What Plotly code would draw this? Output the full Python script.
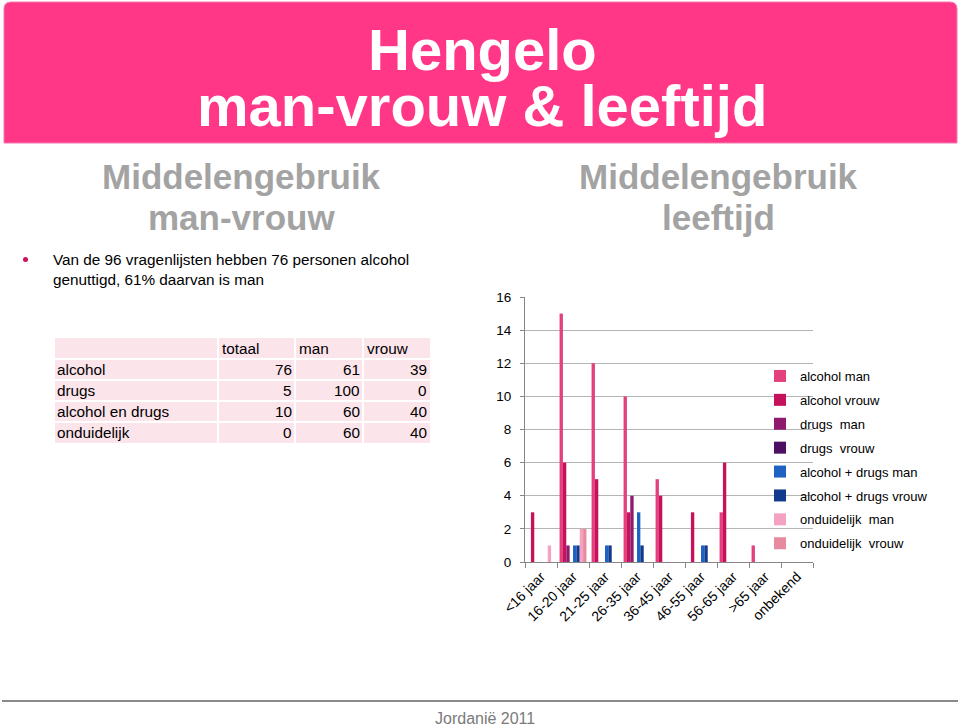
import plotly.graph_objects as go

# ---------------- data ----------------
age_groups = ["<16 jaar", "16-20 jaar", "21-25 jaar", "26-35 jaar", "36-45 jaar",
              "46-55 jaar", "56-65 jaar", ">65 jaar", "onbekend"]
series_names = ["alcohol man", "alcohol vrouw", "drugs  man", "drugs  vrouw",
                "alcohol + drugs man", "alcohol + drugs vrouw",
                "onduidelijk  man", "onduidelijk  vrouw"]
alcohol_man = [0, 15, 12, 10, 5, 0, 3, 1, 0]
alcohol_vrouw = [3, 6, 5, 3, 4, 3, 6, 0, 0]
drugs_man = [0, 1, 0, 4, 0, 0, 0, 0, 0]
drugs_vrouw = [0, 0, 0, 0, 0, 0, 0, 0, 0]
alc_drugs_man = [0, 1, 1, 3, 0, 1, 0, 0, 0]
alc_drugs_vrouw = [0, 1, 1, 1, 0, 1, 0, 0, 0]
ond_man = [1, 2, 0, 0, 0, 0, 0, 0, 0]
ond_vrouw = [0, 2, 0, 0, 0, 0, 0, 0, 0]
series_values = [alcohol_man, alcohol_vrouw, drugs_man, drugs_vrouw,
                 alc_drugs_man, alc_drugs_vrouw, ond_man, ond_vrouw]
series_colors = ["#E3407D", "#C6115B", "#8E1B6E", "#4C0F62",
                 "#1F62C4", "#0F3A8E", "#F3A2C2", "#E78A9D"]

table_rows = ["alcohol", "drugs", "alcohol en drugs", "onduidelijk"]
table_totaal = [76, 5, 10, 0]
table_man = [61, 100, 60, 60]
table_vrouw = [39, 0, 40, 40]
table_header = ["", "totaal", "man", "vrouw"]

W, H = 960, 727


def px(x):
    return x / W


def py(y):
    return 1 - y / H


fig = go.Figure()

for name, vals, col in zip(series_names, series_values, series_colors):
    fig.add_trace(go.Bar(x=age_groups, y=vals, name=name, marker_color=col,
                         marker_line_width=0, legendgroup=name))

fig.update_layout(
    width=W, height=H, margin=dict(l=0, r=0, t=0, b=0, autoexpand=False),
    paper_bgcolor="white", plot_bgcolor="white",
    font=dict(family="Liberation Sans, Arial", color="black"),
    barmode="group", bargap=0.16, bargroupgap=0,
    xaxis=dict(domain=[px(525), px(813)], showline=True, linecolor="#868686",
               ticks="outside", tickson="boundaries", ticklen=5, tickcolor="#868686",
               tickangle=-45, tickfont=dict(size=14), showgrid=False),
    yaxis=dict(domain=[py(562), py(297)], range=[0, 16], dtick=2, showline=True,
               linecolor="#868686", ticks="outside", ticklen=4, tickcolor="#868686",
               ticklabelstandoff=6,
               gridcolor="#B5B5B5", gridwidth=1, tickfont=dict(size=13.5), zeroline=False),
    legend=dict(x=px(760), y=py(361), xanchor="left", yanchor="top",
                bgcolor="rgba(0,0,0,0)", font=dict(size=13), tracegroupgap=4,
                traceorder="grouped"),
)

# ---------------- table (cells built from the table arrays) ----------------
col_edges = [55, 218, 295, 363, 430]
row_edges = [338, 359, 380, 401, 422, 443]
TABLE_BG = "#FCE4EB"
fig.add_shape(type="rect", xref="paper", yref="paper", x0=px(col_edges[0]), x1=px(col_edges[-1]),
              y0=py(row_edges[-1]), y1=py(row_edges[0]), fillcolor=TABLE_BG, line_width=0,
              layer="below")
for xe in col_edges[1:-1]:
    fig.add_shape(type="line", xref="paper", yref="paper", x0=px(xe), x1=px(xe),
                  y0=py(row_edges[-1]), y1=py(row_edges[0]), line=dict(color="white", width=2))
for ye in row_edges[1:-1]:
    fig.add_shape(type="line", xref="paper", yref="paper", x0=px(col_edges[0]), x1=px(col_edges[-1]),
                  y0=py(ye), y1=py(ye), line=dict(color="white", width=2))

table_font = dict(size=15.3, color="black")
for j, h in enumerate(table_header):
    if h:
        fig.add_annotation(text=h, x=px(col_edges[j] + 2), y=py((row_edges[0] + row_edges[1]) / 2),
                           xref="paper", yref="paper", xanchor="left", yanchor="middle",
                           showarrow=False, font=table_font)
columns = [table_rows, table_totaal, table_man, table_vrouw]
for i in range(len(table_rows)):
    yc = py((row_edges[i + 1] + row_edges[i + 2]) / 2)
    for j, colvals in enumerate(columns):
        if j == 0:
            fig.add_annotation(text=str(colvals[i]), x=px(col_edges[0]), y=yc, xref="paper",
                               yref="paper", xanchor="left", yanchor="middle", showarrow=False,
                               font=table_font)
        else:
            fig.add_annotation(text=str(colvals[i]), x=px(col_edges[j + 1] - 1), y=yc, xref="paper",
                               yref="paper", xanchor="right", yanchor="middle", showarrow=False,
                               font=table_font)

# header banner with rounded top corners
bx0, bx1, by0, by1, r = 4, 957, 2, 143, 7
banner_path = (
    f"M {px(bx0)},{py(by1)} L {px(bx0)},{py(by0 + r)} "
    f"Q {px(bx0)},{py(by0)} {px(bx0 + r)},{py(by0)} "
    f"L {px(bx1 - r)},{py(by0)} Q {px(bx1)},{py(by0)} {px(bx1)},{py(by0 + r)} "
    f"L {px(bx1)},{py(by1)} Z"
)
fig.add_shape(type="path", xref="paper", yref="paper", path=banner_path,
              fillcolor="#FF3786", line=dict(color="#F27AAE", width=1), layer="below")
fig.add_annotation(text="<b>Hengelo</b>", x=px(482), y=py(49), xref="paper", yref="paper",
                   xanchor="center", yanchor="middle",
                   showarrow=False, font=dict(size=58, color="white"))
fig.add_annotation(text="<b>man-vrouw &amp; leeftijd</b>", x=px(482), y=py(106),
                   xref="paper", yref="paper", xanchor="center", yanchor="middle",
                   showarrow=False, font=dict(size=58, color="white"))

# section headings
for cx, lines in [(241, ["Middelengebruik", "man-vrouw"]), (718, ["Middelengebruik", "leeftijd"])]:
    for i, t in enumerate(lines):
        fig.add_annotation(text="<b>" + t + "</b>", x=px(cx), y=py(177 + 40 * i),
                           xref="paper", yref="paper", xanchor="center", yanchor="middle",
                           showarrow=False, font=dict(size=35, color="#A3A3A3"))

# bullet text
fig.add_shape(type="circle", xref="paper", yref="paper", x0=px(23), x1=px(28),
              y0=py(262), y1=py(257), fillcolor="#D0105A", line_width=0)
fig.add_annotation(text="Van de 96 vragenlijsten hebben 76 personen alcohol<br>genuttigd, 61% daarvan is man",
                   x=px(51), y=py(249), xref="paper", yref="paper", xanchor="left", yanchor="top",
                   align="left", showarrow=False, font=dict(size=15.3, color="black"))

# footer
fig.add_shape(type="line", xref="paper", yref="paper", x0=px(2), x1=px(958),
              y0=py(701), y1=py(701), line=dict(color="#8A8A8A", width=2))
fig.add_annotation(text="Jordanië 2011", x=px(485), y=py(718), xref="paper", yref="paper",
                   xanchor="center", yanchor="middle", showarrow=False,
                   font=dict(size=16, color="#7A7A7A"))

fig.write_html("out.html")
